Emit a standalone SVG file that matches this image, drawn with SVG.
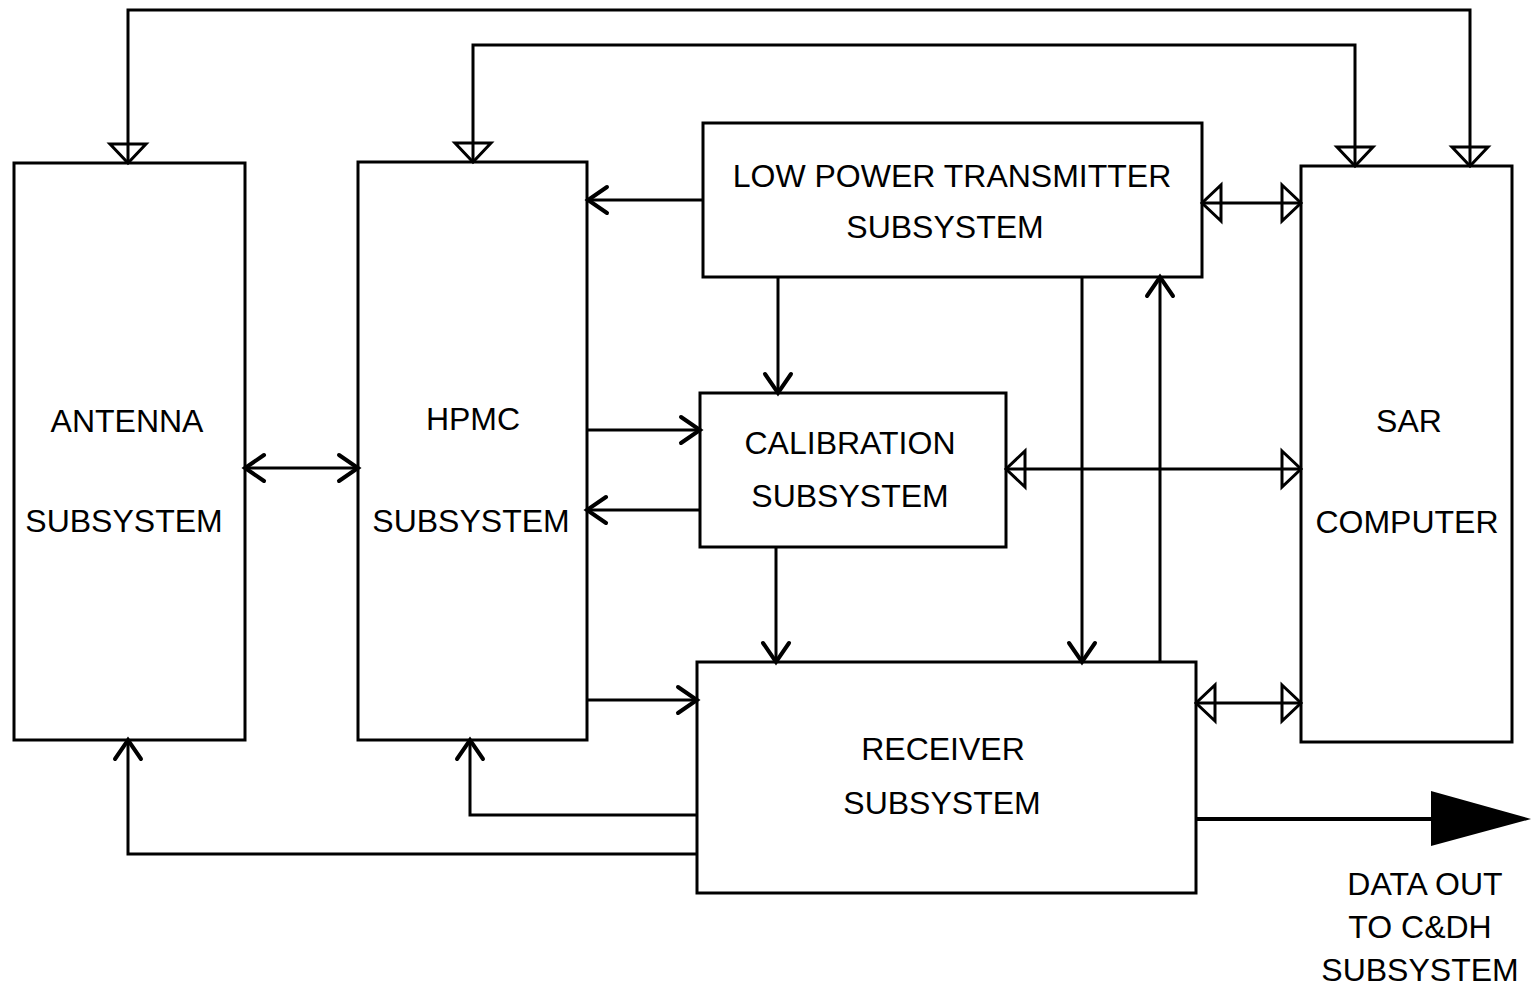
<svg xmlns="http://www.w3.org/2000/svg" width="1533" height="991" viewBox="0 0 1533 991">
<style>
.box{fill:none;stroke:#000;stroke-width:3}
.t{font-family:"Liberation Sans",Arial,sans-serif;font-size:32px;fill:#000;text-anchor:middle}
.c{fill:none;stroke:#000;stroke-width:3}
.oa{marker-end:url(#chev)}
.ob{marker-start:url(#chev);marker-end:url(#chev)}
.tb{marker-start:url(#tri);marker-end:url(#tri)}
</style>
<defs>
<marker id="chev" markerUnits="userSpaceOnUse" viewBox="-24 -16 28 32" refX="0" refY="0" markerWidth="28" markerHeight="32" orient="auto-start-reverse" overflow="visible">
<path d="M-19,-13 L0,0 L-19,13" fill="none" stroke="#000" stroke-width="4" stroke-linecap="round" stroke-linejoin="miter"/>
</marker>
<marker id="tri" markerUnits="userSpaceOnUse" viewBox="-24 -22 28 44" refX="0" refY="0" markerWidth="28" markerHeight="44" orient="auto-start-reverse" overflow="visible">
<path d="M-19,-18 L0,0 L-19,18 Z" fill="none" stroke="#000" stroke-width="3" stroke-linejoin="miter"/>
</marker>
</defs>
<rect width="1533" height="991" fill="#fff"/>

<g id="antenna">
<rect class="box" x="14" y="163" width="231" height="577"/>
<text class="t" x="127" y="432">ANTENNA</text>
<text class="t" x="124" y="532">SUBSYSTEM</text>
</g>
<g id="hpmc">
<rect class="box" x="358" y="162" width="229" height="578"/>
<text class="t" x="473" y="430">HPMC</text>
<text class="t" x="471" y="532">SUBSYSTEM</text>
</g>
<g id="lpt">
<rect class="box" x="703" y="123" width="499" height="154"/>
<text class="t" x="952" y="187">LOW POWER TRANSMITTER</text>
<text class="t" x="945" y="238">SUBSYSTEM</text>
</g>
<g id="calibration">
<rect class="box" x="700" y="393" width="306" height="154"/>
<text class="t" x="850" y="454">CALIBRATION</text>
<text class="t" x="850" y="507">SUBSYSTEM</text>
</g>
<g id="receiver">
<rect class="box" x="697" y="662" width="499" height="231"/>
<text class="t" x="943" y="760">RECEIVER</text>
<text class="t" x="942" y="814">SUBSYSTEM</text>
</g>
<g id="sar">
<rect class="box" x="1301" y="166" width="211" height="576"/>
<text class="t" x="1409" y="432">SAR</text>
<text class="t" x="1407" y="533">COMPUTER</text>
</g>
<g id="dataout">
<text class="t" x="1425" y="895">DATA OUT</text>
<text class="t" x="1420" y="938">TO C&amp;DH</text>
<text class="t" x="1420" y="981">SUBSYSTEM</text>
</g>

<g id="connectors">
<path class="c tb" d="M128,163 V10 H1470 V166"/>
<path class="c tb" d="M473,162 V45 H1355 V166"/>
<path class="c oa" d="M703,200 H588"/>
<path class="c tb" d="M1202,203 H1301"/>
<path class="c oa" d="M778,277 V393"/>
<path class="c oa" d="M1082,277 V662"/>
<path class="c oa" d="M1160,662 V277"/>
<path class="c ob" d="M245,468 H358"/>
<path class="c oa" d="M587,430 H700"/>
<path class="c oa" d="M700,510 H587"/>
<path class="c tb" d="M1006,469 H1301"/>
<path class="c oa" d="M776,547 V662"/>
<path class="c oa" d="M587,700 H697"/>
<path class="c tb" d="M1196,703 H1301"/>
<path class="c oa" d="M697,815 H470 V740"/>
<path class="c oa" d="M697,854 H128 V740"/>
<path class="c" d="M1196,819 H1435" style="stroke-width:4"/>
<polygon points="1431,791 1531,819 1431,846" fill="#000"/>
</g>
</svg>
